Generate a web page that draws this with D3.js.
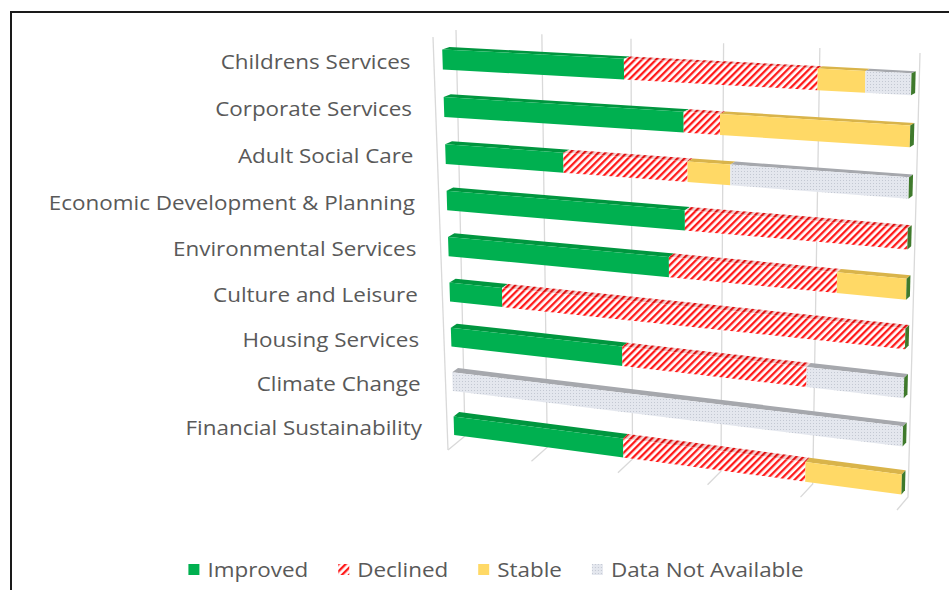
<!DOCTYPE html>
<html>
<head>
<meta charset="utf-8">
<script src="https://cdn.jsdelivr.net/npm/d3@7"></script>
<style>
  body { margin: 0; background: #fff; }
  text { font-family: "Open Sans", sans-serif; fill: #595959; }
</style>
</head>
<body>
<svg id="chart" width="949" height="590"></svg>
<script>
// data (share of measures, %)
var categories = ["Childrens Services", "Corporate Services", "Adult Social Care",
  "Economic Development & Planning", "Environmental Services", "Culture and Leisure",
  "Housing Services", "Climate Change", "Financial Sustainability"];
var improved     = [41, 53.8, 27.3, 54, 50.5, 12.5, 40, 0, 40];
var declined     = [40.5, 7.7, 27.3, 46, 35.5, 87.5, 40, 0, 40];
var stable       = [9.5, 38.5, 9.1, 0, 14, 0, 0, 0, 20];
var notAvailable = [9, 0, 36.3, 0, 0, 0, 20, 100, 0];
var seriesNames = ["Improved", "Declined", "Stable", "Data Not Available"];
var valueTicks = [0, 20, 40, 60, 80, 100];

var svg = d3.select("#chart");
var stretch = 1.15; // the original text is drawn wide

// frame round the chart
svg.append("path")
  .attr("d", "M11,600V12H960")
  .attr("fill", "none")
  .attr("stroke", "#1a1a1a")
  .attr("stroke-width", 2);

// patterns
var defs = svg.append("defs");
var hatch = defs.append("pattern")
  .attr("id", "hatch")
  .attr("patternUnits", "userSpaceOnUse")
  .attr("width", 5).attr("height", 5)
  .attr("patternTransform", "rotate(45)");
hatch.append("rect").attr("width", 5).attr("height", 5).attr("fill", "#fff");
hatch.append("rect").attr("width", 2.3).attr("height", 5).attr("fill", "#ff1a1a");

var hatchTop = defs.append("pattern")
  .attr("id", "hatchTop")
  .attr("patternUnits", "userSpaceOnUse")
  .attr("width", 5).attr("height", 5)
  .attr("patternTransform", "rotate(45)");
hatchTop.append("rect").attr("width", 5).attr("height", 5).attr("fill", "#f3d6d6");
hatchTop.append("rect").attr("width", 2.3).attr("height", 5).attr("fill", "#e01010");

var dots = defs.append("pattern")
  .attr("id", "dots")
  .attr("patternUnits", "userSpaceOnUse")
  .attr("width", 3).attr("height", 3);
dots.append("rect").attr("width", 3).attr("height", 3).attr("fill", "#e4e7ee");
dots.append("rect").attr("width", 1).attr("height", 1).attr("fill", "#c3c8d2");

var frontFill = { "Improved": "#00b050", "Declined": "url(#hatch)", "Stable": "#ffd966", "Data Not Available": "url(#dots)" };
var topFill = { "Improved": "#00963f", "Declined": "url(#hatchTop)", "Stable": "#d9b44a", "Data Not Available": "#a6a8ad" };

// perspective: unit square -> quad
function squareToQuad(p) {
  var x0 = p[0][0], y0 = p[0][1], x1 = p[1][0], y1 = p[1][1],
      x2 = p[2][0], y2 = p[2][1], x3 = p[3][0], y3 = p[3][1];
  var dx1 = x1 - x2, dx2 = x3 - x2, dx3 = x0 - x1 + x2 - x3,
      dy1 = y1 - y2, dy2 = y3 - y2, dy3 = y0 - y1 + y2 - y3;
  var den = dx1 * dy2 - dx2 * dy1;
  var g = (dx3 * dy2 - dx2 * dy3) / den, h = (dx1 * dy3 - dx3 * dy1) / den;
  var a = x1 - x0 + g * x1, b = x3 - x0 + h * x3,
      d = y1 - y0 + g * y1, e = y3 - y0 + h * y3;
  return function(u, v) {
    var w = g * u + h * v + 1;
    return [(a * u + b * v + x0) / w, (d * u + e * v + y0) / w];
  };
}

// back wall and front plane of the 3d box
var back = squareToQuad([[456, 30], [920, 53], [908, 497], [465, 436]]);
var front = squareToQuad([[433, 37], [907, 59], [897, 510], [448, 450]]);

var x = d3.scaleLinear().domain([0, 100]).range([0, 1]);
var y = d3.scaleBand().domain(categories).range([0.035, 0.975]).paddingInner(0.58);

// f: 0 = back wall, 1 = front
function P(value, v, f) {
  var b = back(x(value), v), fr = front(x(value), v);
  return [b[0] + (fr[0] - b[0]) * f, b[1] + (fr[1] - b[1]) * f];
}
var barFront = 0.62, barBack = 0.30;

// gridlines on back wall and floor
var grid = svg.append("g").attr("stroke", "#d9d9d9").attr("stroke-width", 1.3).attr("fill", "none");
valueTicks.forEach(function(t) {
  grid.append("path").attr("d", d3.line()([P(t, 0, 0), P(t, 1, 0), P(t, 1, 1)]));
});
grid.append("path").attr("d", d3.line()([P(0, 0, 1), P(0, 1, 1)]));

// stack the series
var table = categories.map(function(c, i) {
  return { cat: c, "Improved": improved[i], "Declined": declined[i], "Stable": stable[i], "Data Not Available": notAvailable[i] };
});
var stacked = d3.stack().keys(seriesNames)(table);

var bars = svg.append("g");
categories.forEach(function(c, i) {
  var vt = y(c), vb = y(c) + y.bandwidth();
  var g = bars.append("g");
  var lastEnd = 0;
  stacked.forEach(function(layer) {
    var s0 = layer[i][0], s1 = layer[i][1];
    if (s1 - s0 <= 0) return;
    g.append("path")
      .attr("d", d3.line()([P(s0, vt, barFront), P(s1, vt, barFront), P(s1, vt, barBack), P(s0, vt, barBack)]) + "Z")
      .attr("fill", topFill[layer.key]);
    g.append("path")
      .attr("d", d3.line()([P(s0, vt, barFront), P(s1, vt, barFront), P(s1, vb, barFront), P(s0, vb, barFront)]) + "Z")
      .attr("fill", frontFill[layer.key]);
    lastEnd = s1;
  });
  // end cap
  g.append("path")
    .attr("d", d3.line()([P(lastEnd, vt, barFront), P(lastEnd, vt, barBack), P(lastEnd, vb, barBack), P(lastEnd, vb, barFront)]) + "Z")
    .attr("fill", "#3f7a2c");

  // category label
  var lp = P(0, vt + y.bandwidth() / 2, barFront);
  svg.append("g")
    .attr("transform", "translate(" + (lp[0] - 32) + "," + (lp[1] + 2) + ") scale(" + stretch + ",1)")
    .append("text")
    .attr("text-anchor", "end")
    .attr("dominant-baseline", "central")
    .style("font-size", "19.5px")
    .text(c);
});

// legend
var legend = svg.append("g").attr("transform", "translate(0,570)");
var items = [];
seriesNames.forEach(function(name) {
  var it = legend.append("g");
  it.append("rect").attr("x", 0).attr("y", -6).attr("width", 11).attr("height", 11).attr("fill", frontFill[name]);
  var t = it.append("g").attr("transform", "translate(19,0) scale(" + stretch + ",1)")
    .append("text").attr("dominant-baseline", "central")
    .style("font-size", "19.5px").text(name);
  items.push({ g: it, w: 19 + t.node().getComputedTextLength() * stretch });
});
var gap = 30;
var total = d3.sum(items, function(d) { return d.w; }) + gap * (items.length - 1);
var cx = 496 - total / 2;
items.forEach(function(d) {
  d.g.attr("transform", "translate(" + cx + ",0)");
  cx += d.w + gap;
});
</script>
</body>
</html>
